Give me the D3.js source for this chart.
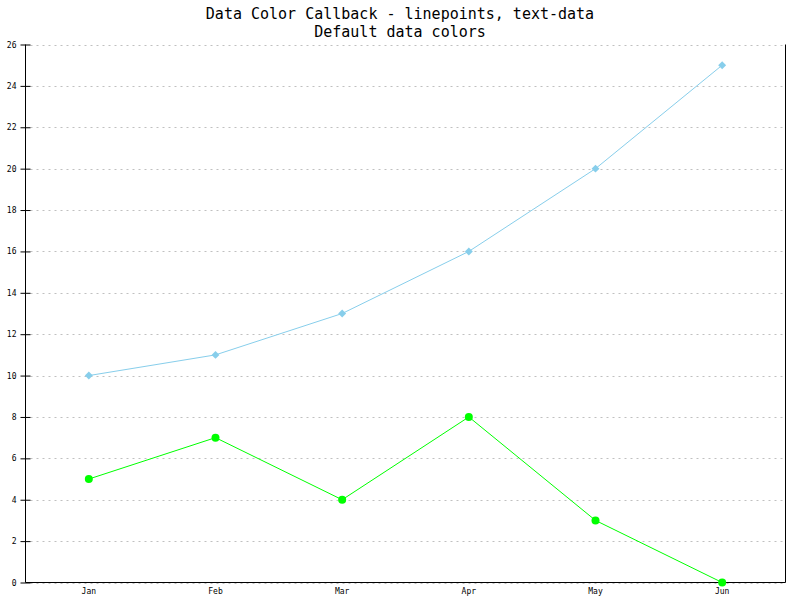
<!DOCTYPE html>
<html><head><meta charset="utf-8">
<script src="https://cdn.jsdelivr.net/npm/d3@7"></script>
<style>body{margin:0;background:#fff}svg{display:block}</style>
</head><body>
<svg id="c" width="800" height="600"></svg>
<script>
const categories = ["Jan","Feb","Mar","Apr","May","Jun"];
const seriesBlue = [10,11,13,16,20,25];
const seriesGreen = [5,7,4,8,3,0];
const yTicks = [0,2,4,6,8,10,12,14,16,18,20,22,24,26];
const titleLines = ["Data Color Callback - linepoints, text-data","Default data colors"];

const svg = d3.select("#c");
svg.append("rect").attr("width",800).attr("height",600).attr("fill","#fff");
const L=25.5, R=785.5, T=44.5, B=582.5;
const x = d3.scaleBand().domain(categories).range([L,R]);
const y = d3.scaleLinear().domain([0,26]).range([B,T]);
const font = "'DejaVu Sans Mono', 'Liberation Mono', monospace";

svg.selectAll("text.title").data(titleLines).enter().append("text")
  .attr("x",400).attr("y",(d,i)=>19+i*18).attr("text-anchor","middle")
  .attr("font-family",font).attr("font-size",15).attr("fill","#000").text(d=>d);

// grid
svg.append("g").selectAll("line").data(yTicks).enter().append("line")
  .attr("x1",L+5).attr("x2",R).attr("y1",d=>Math.round(y(d))+0.5).attr("y2",d=>Math.round(y(d))+0.5)
  .attr("stroke","#c0c0c0").attr("stroke-dasharray","2,4");

// y axis
const yAxis = d3.axisLeft(y).tickValues(yTicks).tickSizeInner(5).tickSizeOuter(0).tickPadding(4);
const gy = svg.append("g").attr("transform",`translate(${L},0)`).call(yAxis);
gy.select(".domain").remove();
gy.selectAll(".tick line").attr("x2",5).attr("x1",-5).attr("stroke","#000");
gy.selectAll("text").attr("font-family",font).attr("font-size",8).attr("fill","#000");
svg.append("line").attr("x1",L).attr("x2",L).attr("y1",T).attr("y2",B).attr("stroke","#000");
svg.append("line").attr("x1",R).attr("x2",R).attr("y1",T).attr("y2",B).attr("stroke","#000");

// x axis
const xAxis = d3.axisBottom(x).tickSize(0).tickPadding(6);
const gx = svg.append("g").attr("transform",`translate(0,${B})`).call(xAxis);
gx.select(".domain").remove();
gx.selectAll("text").attr("font-family",font).attr("font-size",8).attr("fill","#000");
svg.append("line").attr("x1",L).attr("x2",R).attr("y1",B).attr("y2",B).attr("stroke","#000");

const cx = d=>x(d)+x.bandwidth()/2;
const line = d3.line().x((d,i)=>cx(categories[i])).y(d=>y(d));

svg.append("path").datum(seriesBlue).attr("d",line).attr("fill","none").attr("stroke","#87ceeb").attr("stroke-width",1);
svg.append("path").datum(seriesGreen).attr("d",line).attr("fill","none").attr("stroke","#00ff00").attr("stroke-width",1);

svg.selectAll("path.dia").data(seriesBlue).enter().append("path")
  .attr("d",d3.symbol(d3.symbolDiamond2,40)())
  .attr("transform",(d,i)=>`translate(${cx(categories[i])},${y(d)})`)
  .attr("fill","#87ceeb");
svg.selectAll("circle.pt").data(seriesGreen).enter().append("circle")
  .attr("cx",(d,i)=>cx(categories[i])).attr("cy",d=>y(d)).attr("r",4)
  .attr("fill","#00ff00");
</script>
</body></html>
